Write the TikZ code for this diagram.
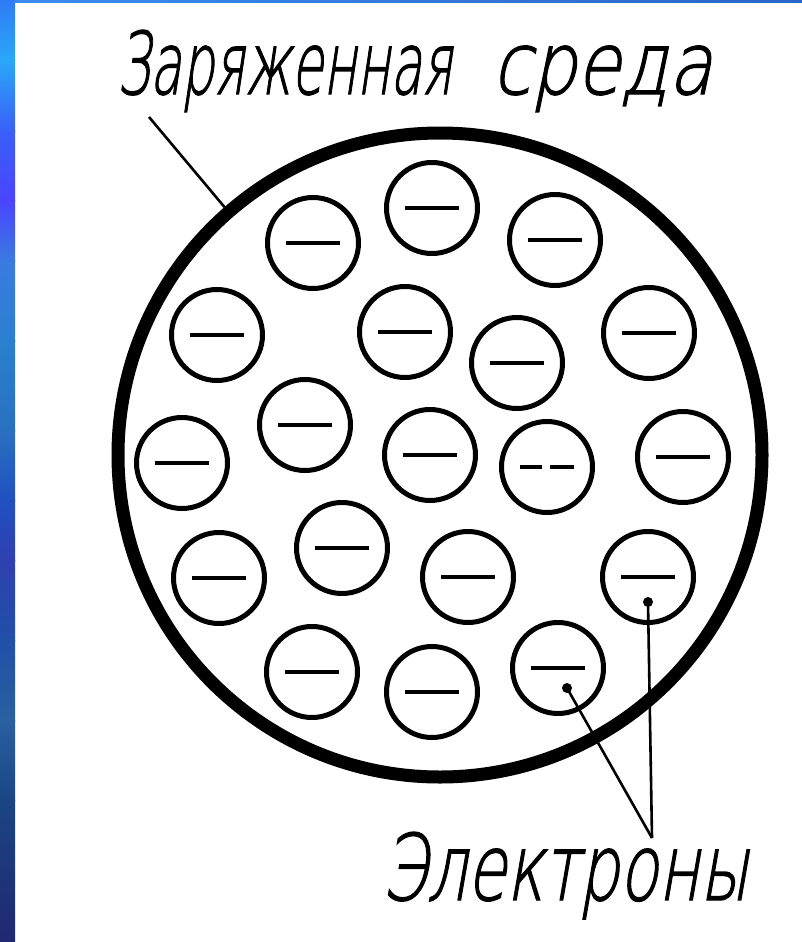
\documentclass[tikz,border=0pt]{standalone}
\usepackage{graphicx}
\usepackage{fontspec}
\newfontfamily\gost[FakeSlant=0.25,FakeBold=1.5]{DejaVu Sans ExtraLight}
\usetikzlibrary{calc}
\definecolor{g0}{HTML}{2F7CF6}
\definecolor{g1}{HTML}{2AA8F8}
\definecolor{g2}{HTML}{3A60F8}
\definecolor{g3}{HTML}{4A44FF}
\definecolor{g4}{HTML}{3A7AE0}
\definecolor{g5}{HTML}{2A80D0}
\definecolor{g6}{HTML}{2A70C0}
\definecolor{g7}{HTML}{2050C0}
\definecolor{g8}{HTML}{3040B0}
\definecolor{g9}{HTML}{2050A8}
\definecolor{g10}{HTML}{2A60A0}
\definecolor{g11}{HTML}{1A4585}
\definecolor{g12}{HTML}{202870}
\definecolor{topl}{HTML}{3C8CF0}
\definecolor{topr}{HTML}{2A66C8}
\begin{document}
\begin{tikzpicture}[x=1pt,y=-1pt,
  electron/.style={circle, draw=black, line width=5pt, minimum size=91pt, inner sep=0pt},
  medium/.style={circle, draw=black, line width=13pt, minimum size=644pt, inner sep=0pt},
  minusbar/.style={line width=4pt},
  leader/.style={line width=2.6pt},
  dotmark/.style={fill=black},
  labeltext/.style={inner sep=0pt, anchor=base west}]
\useasboundingbox (0,0) rectangle (802,942);
\fill[white] (0,0) rectangle (802,942);
% frame gradient
\foreach \a/\b/\ca/\cb in {0/61/g0/g1, 60/131/g1/g2, 130/201/g2/g3, 200/261/g3/g4,
  260/341/g4/g5, 340/431/g5/g6, 430/501/g6/g7, 500/561/g7/g8, 560/641/g8/g9,
  640/721/g9/g10, 720/801/g10/g11, 800/942/g11/g12}
  {\shade[top color=\ca, bottom color=\cb] (0,\a) rectangle (15,\b);}
\shade[left color=topl, right color=topr] (15,0) rectangle (802,3);
% charged medium
\node[medium] (medium) at (440,455) {};
% electrons
\foreach \n/\x/\y in {1/313/243, 2/432/208, 3/555/240, 4/217/335, 5/405/332,
  6/517/363, 7/649/333, 8/305/425, 9/430/455, 10/182/463, 12/683/457,
  13/342/548, 14/219/578, 15/468/577, 16/648/577, 17/312/672, 18/432/692, 19/558/668}
  {\node[electron] (e\n) at (\x,\y) {};
   \draw[minusbar] (e\n.center) ++(-27,0) -- ++(54,0);}
\node[electron] (e11) at (547,467) {};
\draw[minusbar] (e11.center) ++(-27,0) -- ++(22,0) ++(8,0) -- ++(24,0);
% labels
\node[labeltext] (t1) at (117,94) {\resizebox{335pt}{64pt}{\gost Заряженная}};
\node[labeltext] (t1b) at (492,94) {\resizebox{220pt}{64pt}{\gost\vphantom{З}среда}};
\node[labeltext] (t2) at (382,900) {\resizebox{366pt}{68pt}{\gost Электроны}};
% leaders
\coordinate (ls) at (149,117);
\draw[leader] (ls) -- (medium.131);
\coordinate (d19) at ($(e19.center)+(9,20)$);
\coordinate (d16) at ($(e16.center)+(0,25)$);
\coordinate (tip) at (652,838);
\fill[dotmark] (d19) circle (5);
\fill[dotmark] (d16) circle (5);
\draw[leader] (d19) -- (tip);
\draw[leader] (d16) -- (tip);
\end{tikzpicture}
\end{document}
